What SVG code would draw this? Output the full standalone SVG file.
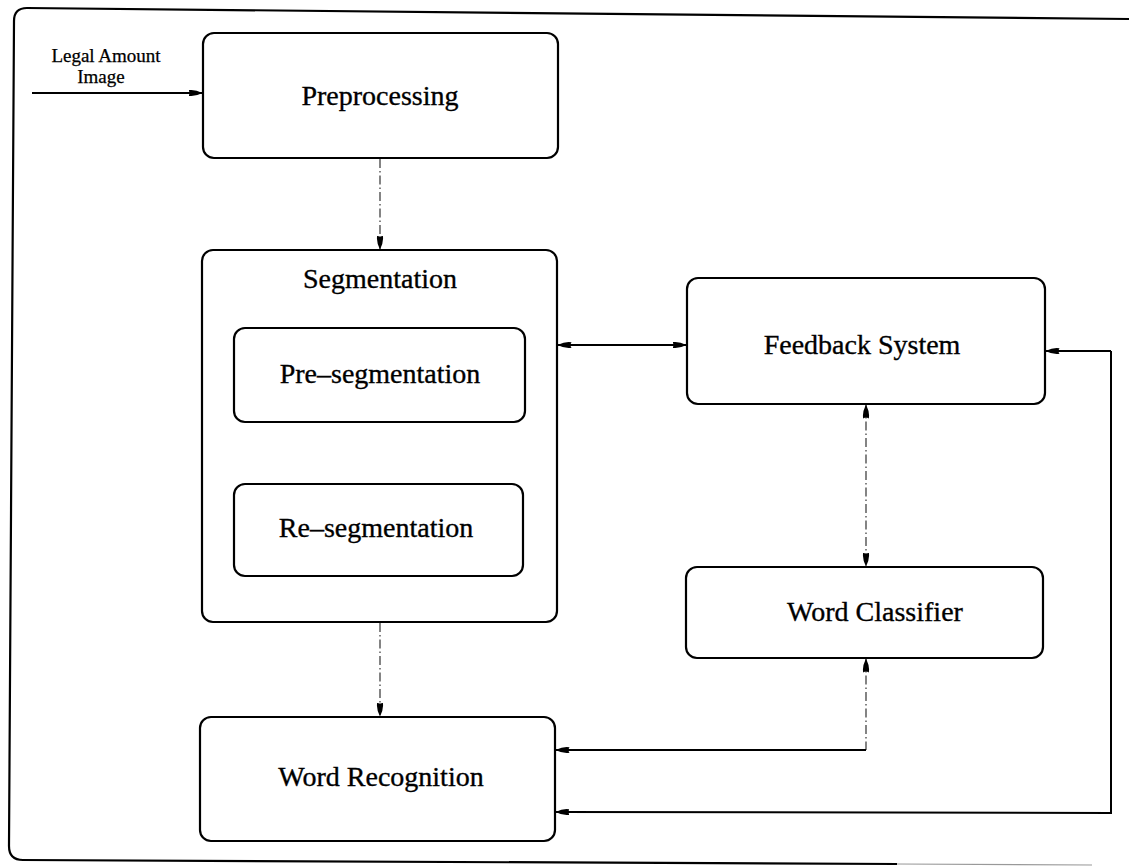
<svg xmlns="http://www.w3.org/2000/svg" width="1129" height="867" viewBox="0 0 1129 867">
  <style>
    .box { fill: none; stroke: #000; stroke-width: 2.2; }
    .lbl { font-family: "Liberation Serif", "Times New Roman", serif; font-size: 28px; fill: #000; stroke: #000; stroke-width: 0.35; text-anchor: middle; }
    .small { font-family: "Liberation Serif", "Times New Roman", serif; font-size: 19px; fill: #000; stroke: #000; stroke-width: 0.25; text-anchor: middle; }
    .solid { fill: none; stroke: #000; stroke-width: 2; }
    .dash { fill: none; stroke: #333; stroke-width: 1.2; stroke-dasharray: 9 3 1.5 3; }
  </style>
  <defs>
    <marker id="head" viewBox="0 0 14 10" refX="13.5" refY="5" markerWidth="14" markerHeight="10" markerUnits="userSpaceOnUse" orient="auto-start-reverse">
      <path d="M0,2.2 Q6,1 14,5 Q6,9 0,7.8 Q2,5 0,2.2 Z" fill="#000"/>
    </marker>
  </defs>

  <rect width="1129" height="867" fill="#fff"/>

  <!-- outer frame -->
  <g id="frame">
    <path class="box" d="M1129,19 L27,8 Q14,8 14,21 L9,846 Q9,860 23,860 L897,864"/>
    <path d="M897,864 L1092,865" fill="none" stroke="#999" stroke-width="1.2"/>
  </g>

  <!-- input label -->
  <g id="input">
    <text class="small" x="106" y="62">Legal Amount</text>
    <text class="small" x="101" y="83">Image</text>
  </g>

  <g id="preprocessing">
    <rect class="box" x="203" y="33" width="355" height="125" rx="11"/>
    <text class="lbl" x="380" y="105">Preprocessing</text>
  </g>

  <g id="segmentation">
    <rect class="box" x="202" y="250" width="355" height="372" rx="11"/>
    <text class="lbl" x="380" y="288">Segmentation</text>
  </g>

  <g id="pre-segmentation">
    <rect class="box" x="234" y="328" width="291" height="94" rx="11"/>
    <text class="lbl" x="380" y="383">Pre–segmentation</text>
  </g>

  <g id="re-segmentation">
    <rect class="box" x="234" y="484" width="289" height="92" rx="11"/>
    <text class="lbl" x="376" y="537">Re–segmentation</text>
  </g>

  <g id="word-recognition">
    <rect class="box" x="200" y="717" width="355" height="124" rx="11"/>
    <text class="lbl" x="381" y="786">Word Recognition</text>
  </g>

  <g id="feedback-system">
    <rect class="box" x="687" y="278" width="358" height="126" rx="11"/>
    <text class="lbl" x="862" y="354">Feedback System</text>
  </g>

  <g id="word-classifier">
    <rect class="box" x="686" y="567" width="357" height="91" rx="11"/>
    <text class="lbl" x="875" y="621">Word Classifier</text>
  </g>

  <!-- connectors -->
  <g id="connectors">
    <!-- image into preprocessing -->
    <line class="solid" x1="32" y1="93" x2="202" y2="93" marker-end="url(#head)"/>
    <!-- preprocessing to segmentation -->
    <line class="dash" x1="380" y1="159" x2="380" y2="249" marker-end="url(#head)"/>
    <!-- segmentation to word recognition -->
    <line class="dash" x1="380" y1="623" x2="380" y2="716" marker-end="url(#head)"/>
    <!-- segmentation <-> feedback system -->
    <line class="solid" x1="558" y1="345" x2="686" y2="345" marker-start="url(#head)" marker-end="url(#head)"/>
    <!-- feedback system <-> word classifier -->
    <line class="dash" x1="866" y1="405" x2="866" y2="566" marker-start="url(#head)" marker-end="url(#head)"/>
    <!-- word classifier <-> word recognition -->
    <line class="dash" x1="866" y1="659" x2="866" y2="750" marker-start="url(#head)"/>
    <polyline class="solid" points="866,750 556,750" marker-end="url(#head)"/>
    <!-- feedback loop on the right -->
    <polyline class="solid" points="1111,351 1111,813 556,812" marker-end="url(#head)"/>
    <line class="solid" x1="1111" y1="351" x2="1046" y2="351" marker-end="url(#head)"/>
  </g>
</svg>
